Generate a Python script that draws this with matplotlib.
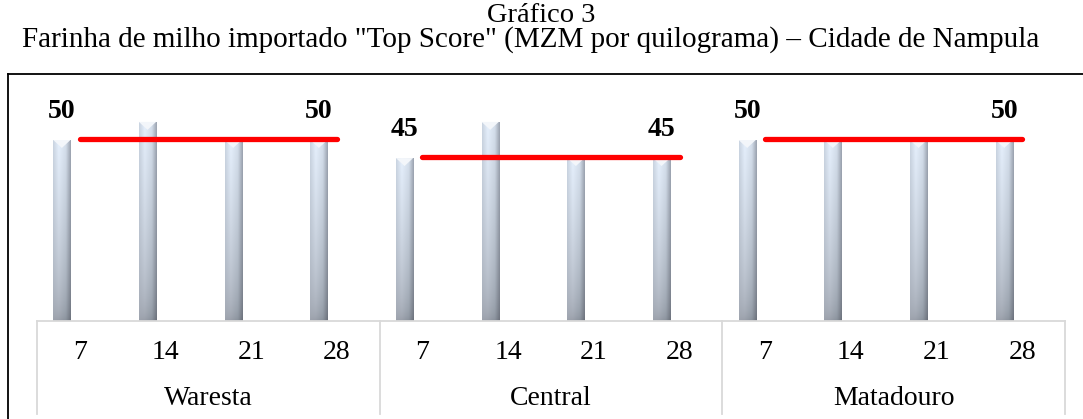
import numpy as np
import matplotlib
matplotlib.use("Agg")
import matplotlib.pyplot as plt
from matplotlib.lines import Line2D
from matplotlib.patches import Polygon
from matplotlib.transforms import blended_transform_factory

# ---- data ----
groups = ["Waresta", "Central", "Matadouro"]
weeks = ["7", "14", "21", "28"]
waresta = [50, 55, 50, 50]
central = [45, 55, 45, 45]
matadouro = [50, 50, 50, 50]
trend_start = [50, 45, 50]
trend_end = [50, 45, 50]

title1 = "Gráfico 3"
title2 = 'Farinha de milho importado "Top Score" (MZM por quilograma) – Cidade de Nampula'

plt.rcParams['font.family'] = ['Liberation Serif', 'DejaVu Serif']

W, H = 1083, 419
fig = plt.figure(figsize=(W / 100, H / 100), dpi=100)

def fx(px):
    return px / W

def fy(py):
    return 1 - py / H

ax_left, ax_right, ax_top, ax_bot = 37, 1065, 74, 321
ax = fig.add_axes([fx(ax_left), fy(ax_bot), (ax_right - ax_left) / W, (ax_bot - ax_top) / H])
n = len(groups) * len(weeks)
ylim = (0, (ax_bot - ax_top) / 3.62)
ax.axis('off')

values = waresta + central + matadouro
bar_offset = -0.21
bar_w = 0.2
xs = np.arange(n) + bar_offset
bars = ax.bar(xs, values, width=bar_w, color='none', edgecolor='none', zorder=2)

# cylinder gradient
nu, nv = 60, 200
u = np.linspace(0, 1, nu)
top_prof = np.array([[0.79, 0.83, 0.88], [0.90, 0.94, 0.99], [0.83, 0.87, 0.92], [0.61, 0.64, 0.69]])
bot_prof = np.array([[0.60, 0.62, 0.66], [0.58, 0.60, 0.64], [0.52, 0.55, 0.59], [0.40, 0.42, 0.46]])
knots = [0.0, 0.32, 0.72, 1.0]

def prof(p):
    return np.stack([np.interp(u, knots, p[:, c]) for c in range(3)], axis=-1)

tp, bp = prof(top_prof), prof(bot_prof)
t = np.linspace(0, 1, nv)[:, None, None]  # 0 bottom -> 1 top
blend = np.clip(t ** 0.5, 0, 1)
grad = bp[None, :, :] * (1 - blend) + tp[None, :, :] * blend

for b in bars:
    x0 = b.get_x()
    h = b.get_height()
    im = ax.imshow(grad, extent=(x0, x0 + bar_w, 0, h), origin='lower', aspect='auto',
                   interpolation='bilinear', zorder=2)
    im.set_clip_path(b)
    cap = Polygon([[x0, h], [x0 + bar_w, h], [x0 + bar_w * 0.5, h - 2.2]], closed=True,
                  facecolor='#f3f6fa', edgecolor='none', zorder=3)
    ax.add_patch(cap)
ax.set_xlim(-0.5, n - 0.5)
ax.set_ylim(*ylim)

# trend lines and labels
for g in range(len(groups)):
    i0 = g * len(weeks)
    ax.plot([i0, i0 + 3], [trend_start[g] + 0.4, trend_end[g] + 0.4], color='#ff0000', lw=3.8,
            solid_capstyle='round', zorder=4)
    ax.text(i0 + bar_offset, trend_start[g] + 7.8, f"{trend_start[g]}", ha='center', va='center',
            fontsize=20, fontweight='bold', zorder=5)
    ax.text(i0 + 3 + bar_offset, trend_end[g] + 7.8, f"{trend_end[g]}", ha='center', va='center',
            fontsize=20, fontweight='bold', zorder=5)

# category axis (two levels)
tr = blended_transform_factory(ax.transData, fig.transFigure)
grid_c = '#d9d9d9'
ax.plot([-0.5, n - 0.5], [fy(320.5), fy(320.5)], color=grid_c, lw=1.3, transform=tr, clip_on=False)
for bnd in np.arange(0, n + 1, len(weeks)) - 0.5:
    ax.plot([bnd, bnd], [fy(320.5), fy(414)], color=grid_c, lw=1.3, transform=tr, clip_on=False)
for i in range(n):
    ax.text(i, fy(352), weeks[i % len(weeks)], ha='center', va='center', fontsize=20,
            transform=tr)
for g, name in enumerate(groups):
    ax.text(g * len(weeks) + 1.5, fy(398), name, ha='center', va='center', fontsize=20,
            transform=tr)

# outer frame (extends past right/bottom edges)
fig.add_artist(Line2D([fx(8), 1.01], [fy(74), fy(74)], color='black', lw=1.3))
fig.add_artist(Line2D([fx(8), fx(8)], [fy(74), -0.01], color='black', lw=1.3))

# titles
fig.text(0.5, fy(15), title1, ha='center', va='center', fontsize=20.5)
fig.text(fx(531), fy(40), title2, ha='center', va='center', fontsize=21)

fig.savefig("out.png", dpi=100)
